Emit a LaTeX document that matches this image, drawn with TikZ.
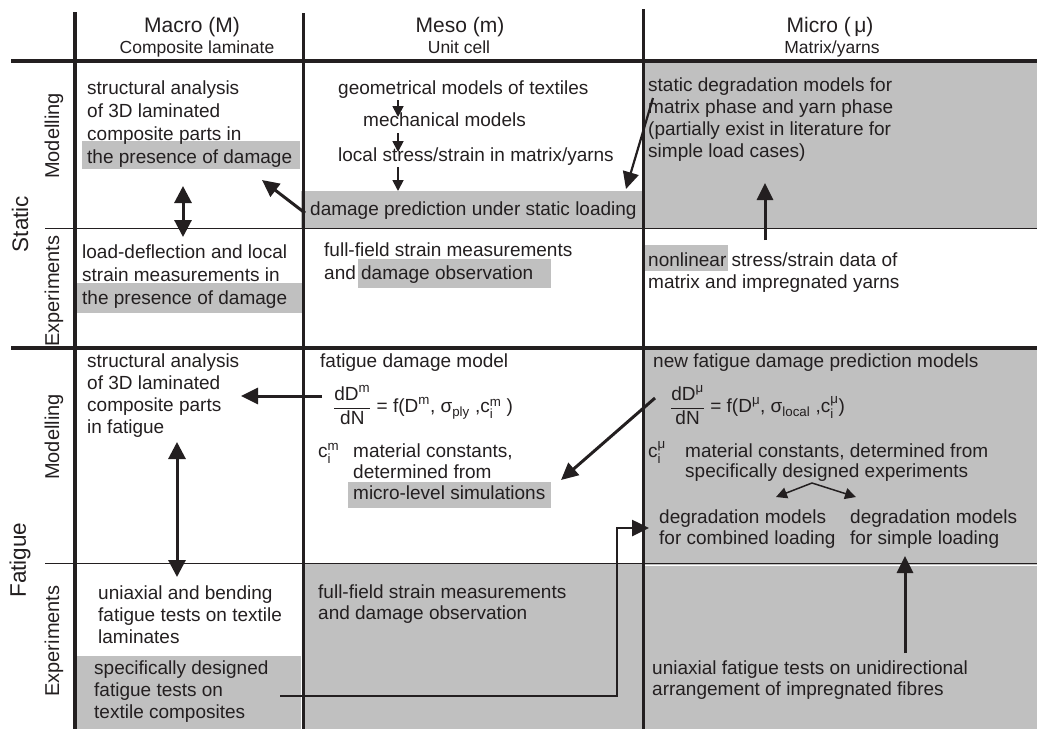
\documentclass[tikz,border=0pt]{standalone}
\usepackage{fontspec}
\setmainfont{Liberation Sans}
\usepackage{amsmath}
\usetikzlibrary{arrows.meta}
\definecolor{hl}{RGB}{192,192,192}
\definecolor{ink}{RGB}{35,31,32}
\begin{document}
\begin{tikzpicture}[x=1pt,y=-1pt,
 txt/.style={anchor=base west, inner sep=0pt, align=left, font=\fontsize{19}{22.5}\selectfont, text=ink},
 hdr/.style={anchor=base, inner sep=0pt, font=\fontsize{21}{24}\selectfont, text=ink},
 sublab/.style={anchor=base, inner sep=0pt, font=\fontsize{17.5}{20}\selectfont, text=ink},
 side/.style={rotate=90, inner sep=0pt, font=\fontsize{20}{24}\selectfont, text=ink},
 bigside/.style={rotate=90, inner sep=0pt, font=\fontsize{22.5}{26}\selectfont, text=ink},
 arr/.style={draw=ink, line width=3pt, -{Triangle[length=17pt,width=16pt]}},
 darr/.style={draw=ink, line width=3pt, {Triangle[length=17pt,width=17pt]}-{Triangle[length=17pt,width=17pt]}},
 sarr/.style={draw=ink, line width=1.8pt, -{Triangle[length=11pt,width=11pt]}},
]
\useasboundingbox (0,0) rectangle (1037,729);
% grey fills
\fill[hl] (643,61) rectangle (1037,228);
\fill[hl] (643,348) rectangle (1037,563);
\fill[hl] (303,563) rectangle (1037,729);
\fill[hl] (77,656) rectangle (301,729);
\fill[hl] (301,191) rectangle (643,228);
\fill[hl] (82,141) rectangle (300,169);
\fill[hl] (77,283) rectangle (302,313);
\fill[hl] (358,259) rectangle (551,288);
\fill[hl] (645,245) rectangle (728,271);
\fill[hl] (348,482) rectangle (551,508);
% grid lines
\draw[ink, line width=1pt] (45,228) -- (1037,228);
\draw[ink, line width=1pt] (45,563) -- (1037,563);
\draw[white, line width=1pt] (643,565) -- (1037,565);
\draw[ink, line width=3.2pt] (11,61) -- (1037,61);
\draw[ink, line width=3.2pt] (11,348) -- (1037,348);
\draw[ink, line width=4pt] (75,12) -- (75,729);
\draw[ink, line width=3pt] (303,13) -- (303,729);
\draw[ink, line width=3pt] (643,9) -- (643,729);
% headers
\node[hdr] (hM) at (192,32) {Macro (M)};
\node[sublab] (hMs) at (197,53) {Composite laminate};
\node[hdr] (hm) at (460,32) {Meso (m)};
\node[sublab] (hms) at (459,53) {Unit cell};
\node[hdr] (hu) at (830,32) {Micro (\,μ)};
\node[sublab] (hus) at (832,53) {Matrix/yarns};
% side labels
\node[bigside] (lst) at (20,224) {Static};
\node[bigside] (lfa) at (20,560) {Fatigue};
\node[side] (lsm) at (54,136) {Modelling};
\node[side] (lse) at (54,291) {Experiments};
\node[side] (lfm) at (54,437) {Modelling};
\node[side] (lfe) at (54,641) {Experiments};
% static modelling (multi-line nodes: base = last line)
\node[txt, font=\fontsize{19}{23}\selectfont] (sM) at (87,163) {structural analysis\\of 3D laminated\\composite parts in\\the presence of damage};
\node[txt] (sm1) at (338,94) {geometrical models of textiles};
\node[txt] (sm2) at (363,126) {mechanical models};
\node[txt] (sm3) at (338,161) {local stress/strain in matrix/yarns};
\node[txt] (sm4) at (310,215) {damage prediction under static loading};
\node[txt, font=\fontsize{19}{22}\selectfont] (su) at (648,157) {static degradation models for\\matrix phase and yarn phase\\(partially exist in literature for\\simple load cases)};
% static experiments
\node[txt, font=\fontsize{19}{23}\selectfont] (eM) at (82,304) {load-deflection and local\\strain measurements in\\the presence of damage};
\node[txt, font=\fontsize{19}{23}\selectfont] (em) at (324,279) {full-field strain measurements\\and damage observation};
\node[txt, font=\fontsize{19}{22}\selectfont] (eu) at (648,288) {nonlinear stress/strain data of\\matrix and impregnated yarns};
% fatigue modelling
\node[txt, font=\fontsize{19}{22}\selectfont] (fM) at (87,433) {structural analysis\\of 3D laminated\\composite parts\\in fatigue};
\node[txt] (fm1) at (320,367) {fatigue damage model};
\node[txt, anchor=west] (fmeq) at (333,405) {$\dfrac{\text{dD}^{\text{m}}}{\text{dN}}\text{ = f(D}^{\text{m}}\text{, σ}_{\text{ply}}\text{ ,c}_{\text{i}}^{\text{m}}\text{ )}$};
\node[txt] (fmc) at (318,457) {$\text{c}_{\text{i}}^{\text{m}}$};
\node[txt, font=\fontsize{19}{21}\selectfont] (fmt) at (353,499) {material constants,\\determined from\\micro-level simulations};
\node[txt] (fu1) at (653,367) {new fatigue damage prediction models};
\node[txt, anchor=west] (fueq) at (670,405) {$\dfrac{\text{dD}^{\text{μ}}}{\text{dN}}\text{ = f(D}^{\text{μ}}\text{, σ}_{\text{local}}\text{ ,c}_{\text{i}}^{\text{μ}}\text{)}$};
\node[txt] (fuc) at (648,457) {$\text{c}_{\text{i}}^{\text{μ}}$};
\node[txt, font=\fontsize{19}{20.5}\selectfont] (fut) at (685,477.5) {material constants, determined from\\specifically designed experiments};
\node[txt, font=\fontsize{19}{21}\selectfont] (fuA) at (659,544) {degradation models\\for combined loading};
\node[txt, font=\fontsize{19}{21}\selectfont] (fuB) at (850,544) {degradation models\\for simple loading};
% fatigue experiments
\node[txt, font=\fontsize{19}{22}\selectfont] (gM1) at (98,643) {uniaxial and bending\\fatigue tests on textile\\laminates};
\node[txt, font=\fontsize{19}{22}\selectfont] (gM2) at (94,718) {specifically designed\\fatigue tests on\\textile composites};
\node[txt, font=\fontsize{19}{21}\selectfont] (gm) at (318,619) {full-field strain measurements\\and damage observation};
\node[txt, font=\fontsize{19}{21}\selectfont] (gu) at (652,695) {uniaxial fatigue tests on unidirectional\\arrangement of impregnated fibres};
% arrow end points
\coordinate (c1a) at (398,100); \coordinate (c1b) at (398,117);
\coordinate (c2a) at (398,133); \coordinate (c2b) at (398,152);
\coordinate (c3a) at (398,167); \coordinate (c3b) at (398,191);
\coordinate (u1a) at (653,98);  \coordinate (u1b) at (626,189);
\coordinate (d1a) at (305,213); \coordinate (d1b) at (262,180);
\coordinate (v1a) at (183,186); \coordinate (v1b) at (183,237);
\coordinate (n1a) at (765,240); \coordinate (n1b) at (765,183);
\coordinate (h1a) at (322,396); \coordinate (h1b) at (241,396);
\coordinate (v2a) at (177,442); \coordinate (v2b) at (177,577);
\coordinate (q1a) at (655,398); \coordinate (q1b) at (561,480);
\coordinate (k0) at (812,483); \coordinate (k1) at (776,497); \coordinate (k2) at (856,497);
\coordinate (p1a) at (905,653); \coordinate (p1b) at (905,556);
\coordinate (e1a) at (280,696); \coordinate (e1m) at (617,528); \coordinate (e1b) at (649,528);
% arrows
\draw[sarr] (c1a) -- (c1b);
\draw[sarr] (c2a) -- (c2b);
\draw[sarr] (c3a) -- (c3b);
\draw[arr, line width=2.2pt] (u1a) -- (u1b);
\draw[arr] (d1a) -- (d1b);
\draw[darr] (v1a) -- (v1b);
\draw[arr] (n1a) -- (n1b);
\draw[arr] (h1a) -- (h1b);
\draw[darr] (v2a) -- (v2b);
\draw[arr] (q1a) -- (q1b);
\draw[sarr, line width=1.5pt] (k0) -- (k1);
\draw[sarr, line width=1.5pt] (k0) -- (k2);
\draw[arr] (p1a) -- (p1b);
\draw[arr, line width=2.6pt] (e1a) -| (e1m) -- (e1b);
\end{tikzpicture}
\end{document}
